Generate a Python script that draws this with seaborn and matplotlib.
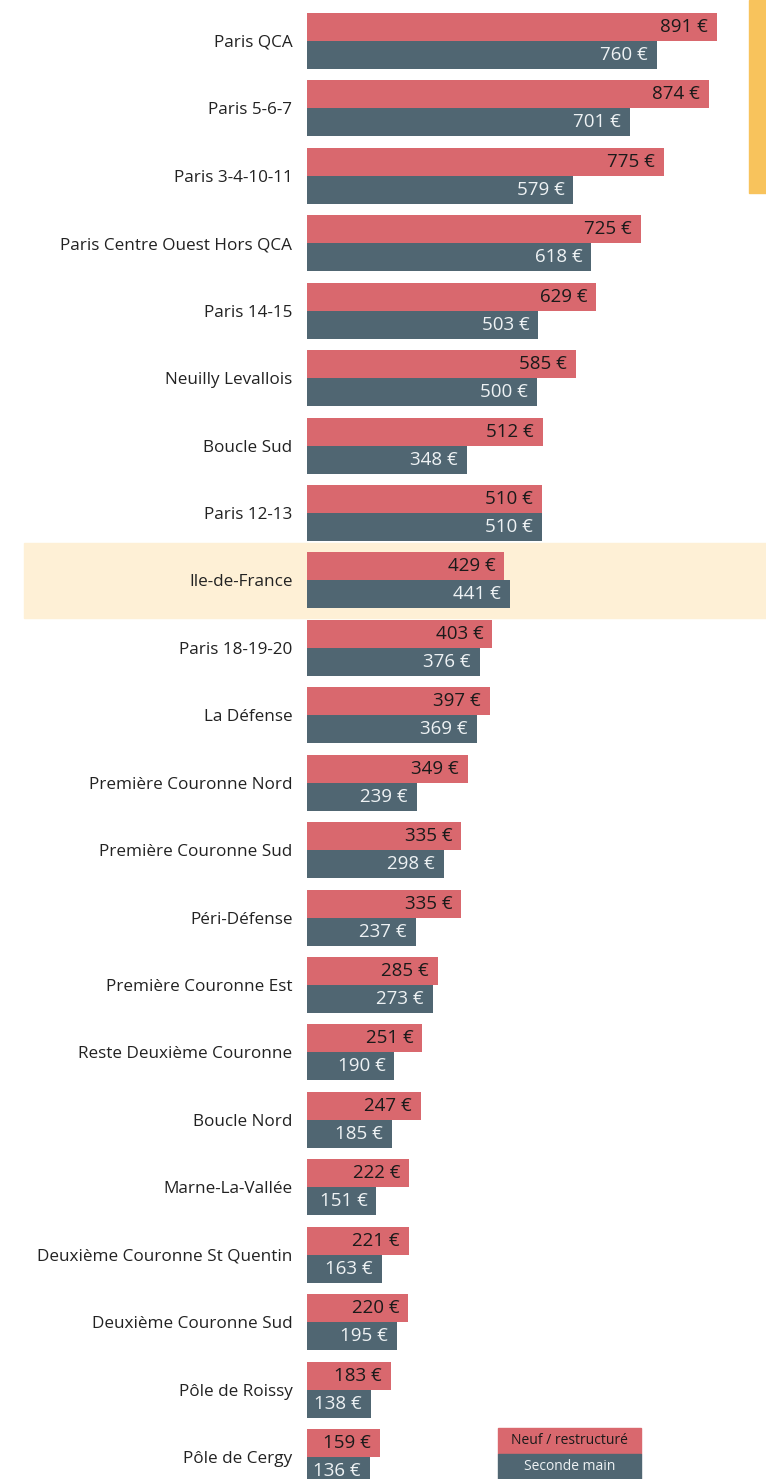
import pandas as pd
import matplotlib.pyplot as plt
import seaborn as sns
from matplotlib.patches import Rectangle

# Data (loyers €/m²/an)
categories = [
    "Paris QCA", "Paris 5-6-7", "Paris 3-4-10-11", "Paris Centre Ouest Hors QCA",
    "Paris 14-15", "Neuilly Levallois", "Boucle Sud", "Paris 12-13",
    "Ile-de-France", "Paris 18-19-20", "La Défense", "Première Couronne Nord",
    "Première Couronne Sud", "Péri-Défense", "Première Couronne Est",
    "Reste Deuxième Couronne", "Boucle Nord", "Marne-La-Vallée",
    "Deuxième Couronne St Quentin", "Deuxième Couronne Sud", "Pôle de Roissy",
    "Pôle de Cergy",
]
neuf = [891, 874, 775, 725, 629, 585, 512, 510, 429, 403, 397, 349,
        335, 335, 285, 251, 247, 222, 221, 220, 183, 159]
seconde = [760, 701, 579, 618, 503, 500, 348, 510, 441, 376, 369, 239,
           298, 237, 273, 190, 185, 151, 163, 195, 138, 136]
series = ["Neuf / restructuré", "Seconde main"]
highlight = "Ile-de-France"

RED = "#D9686E"
GREY = "#506672"
BAND = "#FEF0D6"
ORANGE = "#F8C35C"

df = pd.DataFrame({"zone": categories, series[0]: neuf, series[1]: seconde})
df_long = df.melt(id_vars="zone", var_name="type", value_name="loyer")

sns.set_style("white")
plt.rcParams["font.family"] = ["Open Sans", "DejaVu Sans"]

W, H = 766, 1479
fig = plt.figure(figsize=(W / 100, H / 100), dpi=100)

# axes geometry in pixels
x0 = 307
px_per_unit = (717 - 307) / 891
row_px = (1429 - 13) / 21
ax = fig.add_axes([x0 / W, 0, (W - x0) / W, 1])

sns.barplot(data=df_long, y="zone", x="loyer", hue="type", order=categories,
            hue_order=series, palette=[RED, GREY], saturation=1, width=0.83,
            gap=0, edgecolor="none", legend=False, ax=ax)

ax.set_xlim(0, (W - x0) / px_per_unit)
ax.set_ylim(len(categories) - 1 + 22 / row_px, -41 / row_px)
ax.set_xlabel("")
ax.set_ylabel("")
ax.set_xticks([])
ax.tick_params(axis="y", length=0, pad=10.5, labelsize=12.3, labelcolor="#222222")
sns.despine(ax=ax, left=True, bottom=True, top=True, right=True)

# highlight band behind Ile-de-France
hi = categories.index(highlight)
ax.axhspan(hi - 0.556, hi + 0.556, xmin=-(x0 - 24) / (W - x0), xmax=1,
           color=BAND, zorder=0, clip_on=False)

# value labels inside bars
text_colors = ["#1a1a1a", "#eef2f4"]
for cont, tc in zip(ax.containers, text_colors):
    for bar in cont:
        w = bar.get_width()
        ax.annotate(f"{w:.0f} €", xy=(w, bar.get_y() + bar.get_height() / 2),
                    xytext=(-9, 0), textcoords="offset pixels",
                    ha="right", va="center", fontsize=13.5, color=tc)

# orange accent at top right
fig.patches.append(Rectangle((749 / W, 1 - 193 / H), 17 / W, 193 / H,
                             transform=fig.transFigure, color=ORANGE, zorder=0))

# legend boxes
lx, lw = 498 / W, 143 / W
fig.patches.append(Rectangle((lx, 25 / H), lw, 26 / H, transform=fig.transFigure,
                             color=RED, zorder=3))
fig.patches.append(Rectangle((lx, 0), lw, 25 / H, transform=fig.transFigure,
                             color=GREY, zorder=3))
fig.text(lx + lw / 2, 38 / H, series[0], ha="center", va="center",
         fontsize=10, color="#1a1a1a", zorder=4)
fig.text(lx + lw / 2, 12.5 / H, series[1], ha="center", va="center",
         fontsize=10, color="#eef2f4", zorder=4)

fig.savefig("out.png", dpi=100)
